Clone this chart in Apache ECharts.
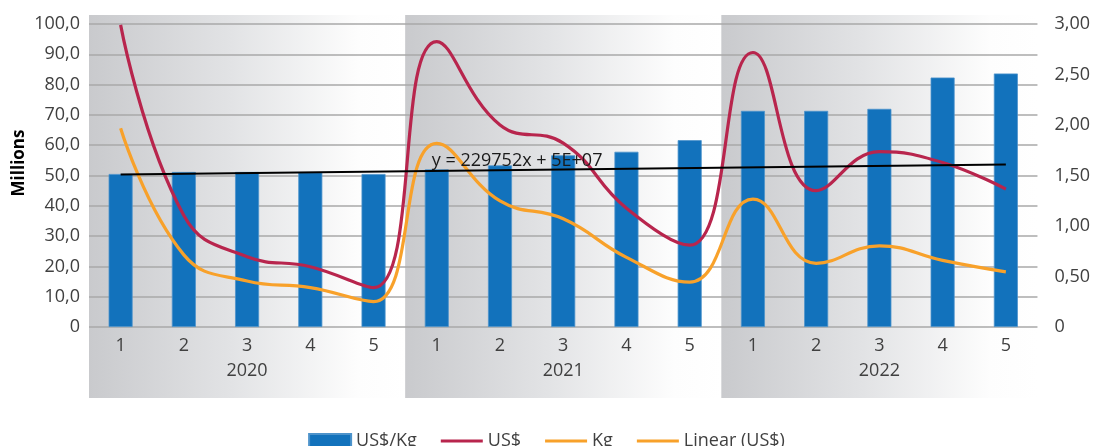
<!DOCTYPE html>
<html>
<head>
<meta charset="utf-8">
<script src="https://cdn.jsdelivr.net/npm/echarts@6/dist/echarts.min.js"></script>
<style>
  html, body { margin: 0; padding: 0; background: #ffffff; }
  #chart { width: 1093px; height: 446px; }
</style>
</head>
<body>
<div id="chart"></div>
<script>
const categories = ['1','2','3','4','5','1','2','3','4','5','1','2','3','4','5'];
const years = ['2020','2021','2022'];
const usdPerKg = [1.515,1.535,1.535,1.53,1.515,1.56,1.60,1.70,1.735,1.85,2.14,2.14,2.16,2.47,2.51];
const usd = [99.7,36.8,23.2,19.9,13.0,94.2,66.7,60.7,39.2,27.0,90.6,45.0,57.9,54.3,45.5];
const kg = [65.6,23.8,15.2,13.0,8.4,60.6,41.6,35.7,23.0,14.8,42.2,21.0,26.8,22.0,18.2];
const trendUSD = [50.3, 53.6];
const trendLabel = 'y = 229752x + 5E+07';
const leftTicks = { min: 0, max: 100, interval: 10 };
const rightTicks = { min: 0, max: 3, interval: 0.5 };

const FONT = 'Open Sans';
const TXT = '#404040';
const FS = 18;
const LINE_ICON = 'path://M0,0H42V3H0Z';
const chart = echarts.init(document.getElementById('chart'), null, { renderer: 'canvas' });

const trendData = categories.map((_, i) => i === 0 ? trendUSD[0] : (i === categories.length - 1 ? trendUSD[1] : null));

chart.setOption({
  animation: false,
  textStyle: { fontFamily: FONT },
  grid: { left: 89, right: 55, top: 24, bottom: 119, containLabel: false },
  legend: {
    top: 427, left: 'center',
    itemWidth: 42, itemHeight: 14, itemGap: 24,
    textStyle: { fontFamily: FONT, fontSize: FS, color: TXT },
    data: [
      { name: 'US$/Kg', icon: 'rect' },
      { name: 'US$', icon: LINE_ICON },
      { name: 'Kg', icon: LINE_ICON },
      { name: 'Linear (US$)', icon: LINE_ICON, itemStyle: { color: '#f8a12a' } }
    ]
  },
  xAxis: [
    {
      type: 'category', data: categories, position: 'bottom',
      axisLine: { show: false }, axisTick: { show: false },
      axisLabel: { color: TXT, fontSize: FS, fontFamily: FONT, margin: 10 }
    },
    {
      type: 'category', data: years, position: 'bottom', offset: 25,
      axisLine: { show: false }, axisTick: { show: false },
      axisLabel: { color: TXT, fontSize: FS, fontFamily: FONT, margin: 10 }
    }
  ],
  yAxis: [
    {
      type: 'value', min: leftTicks.min, max: leftTicks.max, interval: leftTicks.interval,
      axisLine: { show: false }, axisTick: { show: false },
      splitLine: { show: true, lineStyle: { color: '#a8a8a8', width: 1.5 } },
      axisLabel: { color: TXT, fontSize: FS, fontFamily: FONT, margin: 9,
        formatter: v => v === 0 ? '0' : v.toFixed(1).replace('.', ',') }
    },
    {
      type: 'value', min: rightTicks.min, max: rightTicks.max, interval: rightTicks.interval,
      position: 'right',
      axisLine: { show: false }, axisTick: { show: false }, splitLine: { show: false },
      axisLabel: { color: TXT, fontSize: FS, fontFamily: FONT, margin: 17,
        formatter: v => v === 0 ? '0' : v.toFixed(2).replace('.', ',') }
    }
  ],
  series: [
    {
      name: 'US$/Kg', type: 'bar', yAxisIndex: 1, data: usdPerKg, barWidth: '38%',
      itemStyle: { color: '#1272bc', borderColor: '#4d93cb', borderWidth: 0.8 }, z: 2
    },
    {
      name: 'US$', type: 'line', yAxisIndex: 0, data: usd, smooth: 0.45, symbol: 'none',
      lineStyle: { color: '#b8254d', width: 3.2 }, itemStyle: { color: '#b8254d' }, z: 4
    },
    {
      name: 'Kg', type: 'line', yAxisIndex: 0, data: kg, smooth: 0.45, symbol: 'none',
      lineStyle: { color: '#f8a12a', width: 3.2 }, itemStyle: { color: '#f8a12a' }, z: 4
    },
    {
      name: 'Linear (US$)', type: 'line', yAxisIndex: 0, data: trendData, connectNulls: true, symbol: 'none',
      lineStyle: { color: '#000000', width: 2 }, itemStyle: { color: '#000000' }, z: 5
    }
  ]
});

// Year background bands and labels positioned via the axes
const c0 = chart.convertToPixel({ xAxisIndex: 0 }, 0);
const c1 = chart.convertToPixel({ xAxisIndex: 0 }, 1);
const w = c1 - c0;
const graphics = [];
years.forEach((y, k) => {
  const left = chart.convertToPixel({ xAxisIndex: 0 }, k * 5) - w / 2;
  graphics.push({
    type: 'rect', z: -10, silent: true,
    shape: { x: left, y: 15, width: w * 5, height: 383 },
    style: {
      fill: new echarts.graphic.LinearGradient(0, 0, 1, 0, [
        { offset: 0, color: '#c9cacd' },
        { offset: 0.45, color: '#e2e3e5' },
        { offset: 0.85, color: '#fdfdfd' },
        { offset: 1, color: '#ffffff' }
      ])
    }
  });
});
const lblPt = chart.convertToPixel({ xAxisIndex: 0, yAxisIndex: 0 }, [5, 54.8]);
graphics.push({
  type: 'text', z: 10, silent: true,
  x: lblPt[0] - 5, y: lblPt[1],
  style: { text: trendLabel, fontFamily: FONT, fontSize: FS, fill: '#1a1a1a', verticalAlign: 'middle' }
});
graphics.push({
  type: 'text', z: 10, silent: true,
  x: 19, y: 163, rotation: Math.PI / 2,
  style: { text: 'Millions', fontFamily: FONT, fontSize: 17, fontWeight: 'bold', fill: '#000000', align: 'center', verticalAlign: 'middle' }
});
chart.setOption({ graphic: graphics });
</script>
</body>
</html>
